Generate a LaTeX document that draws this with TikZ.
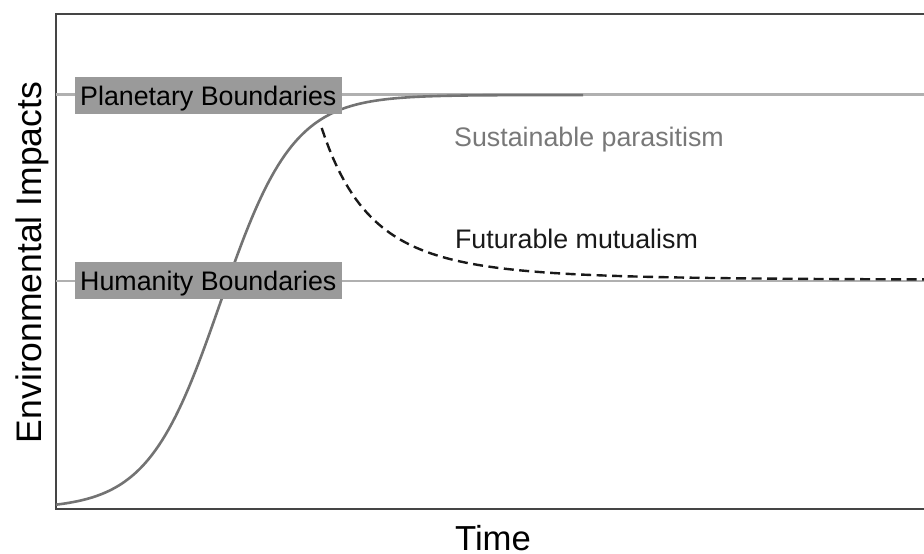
\documentclass[tikz,border=0pt]{standalone}
\usepackage{fontspec}
\setmainfont{Liberation Sans}
\definecolor{axisgray}{HTML}{454545}
\definecolor{boundgray}{HTML}{B0B0B0}
\definecolor{boxgray}{HTML}{9A9A9A}
\definecolor{curvegray}{HTML}{737373}
\definecolor{labelgray}{HTML}{787878}
\begin{document}
\begin{tikzpicture}[x=1pt,y=-1pt,
  frame/.style={draw=axisgray, line width=1.9pt},
  boundline/.style={draw=boundgray, line width=2.4pt},
  growth/.style={draw=curvegray, line width=2.6pt},
  mutual/.style={draw=black!90, line width=2.4pt, dash pattern=on 10pt off 5.5pt},
  boundbox/.style={fill=boxgray, inner xsep=0pt, inner ysep=0pt,
    minimum width=267.3pt, text height=27.6pt, text depth=9pt,
    anchor=base, font=\fontsize{26.8}{30}\selectfont},
  curvelabel/.style={anchor=base, inner sep=0pt, font=\fontsize{26.8}{30}\selectfont},
  axislabel/.style={anchor=base, inner sep=0pt, font=\fontsize{35.5}{40}\selectfont}]
\useasboundingbox (0,0) rectangle (924,554);

% plot frame (open on the right)
\coordinate (tr) at (924,14);
\coordinate (tl) at (56,14);
\coordinate (bl) at (56,509);
\coordinate (br) at (924,509);
\draw[frame] (tr) -- (tl) -- (bl) -- (br);

% boundary levels
\coordinate (pbL) at (56,94.5);
\coordinate (pbR) at (924,94.5);
\coordinate (hbL) at (56,280.7);
\coordinate (hbR) at (924,280.7);
\draw[boundline] (pbL) -- (pbR);
\draw[boundline] (hbL) -- (hbR);

% logistic growth of impacts
\draw[growth] plot[domain=56:583, samples=160]
  (\x, {95 + 414/(1+exp(min(9,0.0276*(\x-220.6))))});

% decline towards the humanity boundary
\draw[mutual] plot[domain=321.7:924, samples=160]
  (\x, {280 - 152*(200/(200+\x-321.7))^4});

% boundary labels
\node[boundbox] (pb) at (208.3,105) {Planetary Boundaries};
\node[boundbox] (hb) at (208.3,290) {Humanity Boundaries};

% curve labels
\node[curvelabel, text=labelgray] (sp) at (589,146) {Sustainable parasitism};
\node[curvelabel, text=black!90] (fm) at (576.5,248.3) {Futurable mutualism};

% axis titles
\node[axislabel, rotate=90] (ylab) at (41.5,262.5) {Environmental Impacts};
\node[axislabel, font=\fontsize{34.7}{40}\selectfont] (xlab) at (493,550.5) {Time};
\end{tikzpicture}
\end{document}
